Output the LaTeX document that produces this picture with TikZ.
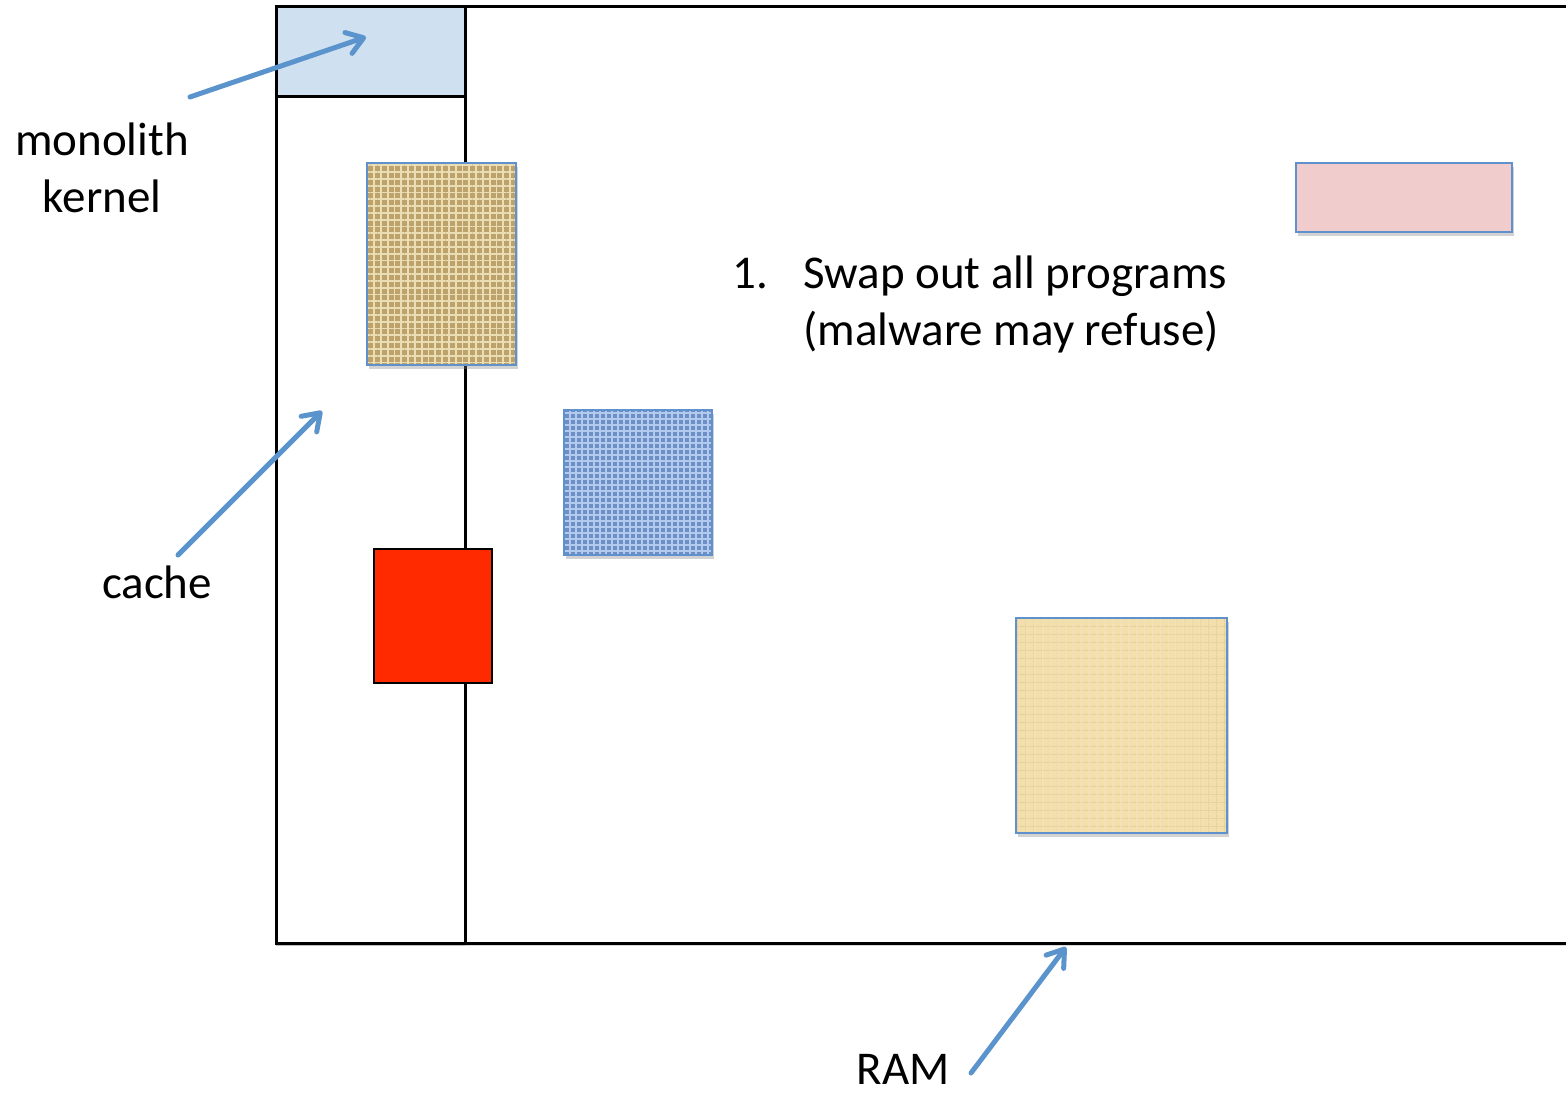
\documentclass[tikz,border=0pt]{standalone}
\usepackage{fontspec}
\setmainfont{Carlito}
\usetikzlibrary{arrows.meta,shadows,patterns,patterns.meta}
\definecolor{arrowblue}{RGB}{91,148,204}
\definecolor{kernelblue}{RGB}{207,224,241}
\definecolor{boxedge}{RGB}{95,145,205}
\definecolor{burlap}{RGB}{190,162,108}
\definecolor{burlaplight}{RGB}{236,222,180}
\definecolor{denim}{RGB}{110,142,198}
\definecolor{denimlight}{RGB}{178,202,238}
\definecolor{rosepaper}{RGB}{240,204,204}
\definecolor{papyrus}{RGB}{242,223,172}
\definecolor{papyrusline}{RGB}{230,208,155}
\definecolor{hotred}{RGB}{255,42,0}
\begin{document}
\begin{tikzpicture}[x=0.5pt,y=-0.5pt,
  lbl/.style={font=\fontsize{23.5}{28.5}\selectfont, inner sep=0pt},
  ptr/.style={draw=arrowblue, line width=2.5pt, line cap=round,
    -{Straight Barb[length=8pt,width=11pt,line cap=round,line join=round]}},
  frame/.style={draw=black, line width=1.5pt, fill=white,
    drop shadow={shadow xshift=0pt, shadow yshift=-1.5pt, opacity=0.3}},
  swatch/.style={draw=boxedge, line width=1.2pt,
    drop shadow={shadow xshift=0.8pt, shadow yshift=-1.8pt, opacity=0.35}},
]
\fill[white] (0,0) rectangle (1566,1097);
\useasboundingbox (0,0) rectangle (1566,1097);

% RAM frame and kernel column
\path[frame] (276,7) rectangle (1600,943);
\path[frame] (276,7) rectangle (465,943);
\draw[black, line width=1.5pt, fill=kernelblue] (276,7) rectangle (465,97);

% program swatches
\path[swatch, fill=burlap,
  postaction={pattern={Lines[angle=0,distance=3.4pt,line width=0.9pt]}, pattern color=burlaplight},
  postaction={pattern={Lines[angle=90,distance=3.4pt,line width=0.9pt]}, pattern color=burlaplight},
  postaction={draw=boxedge, line width=1.2pt}]
  (367,163) rectangle (516,365);
\path[swatch, fill=denim,
  postaction={pattern={Lines[angle=0,distance=3pt,line width=0.8pt]}, pattern color=denimlight},
  postaction={pattern={Lines[angle=90,distance=3pt,line width=0.6pt]}, pattern color=denimlight},
  postaction={draw=boxedge, line width=1.2pt}]
  (564,410) rectangle (712,555);
\path[swatch, fill=rosepaper] (1296,163) rectangle (1512,232);
\path[swatch, fill=papyrus,
  postaction={pattern={Lines[angle=0,distance=4pt,line width=0.4pt]}, pattern color=papyrusline},
  postaction={pattern={Lines[angle=90,distance=4pt,line width=0.4pt]}, pattern color=papyrusline},
  postaction={draw=boxedge, line width=1.2pt}]
  (1016,618) rectangle (1227,833);
\draw[black, line width=1.2pt, fill=hotred] (374,549) rectangle (492,683);

% labels
\node[lbl, align=center, anchor=base] (mk) at (102,212) {monolith\\kernel};
\node[lbl, anchor=base] (cache) at (157,598) {cache};
\node[lbl, anchor=base] (ram) at (903,1084) {RAM};
\node[lbl, align=left, anchor=base west] (step1) at (732,345)
  {\makebox[35.5pt][l]{1.}Swap out all programs\\\hspace*{35.5pt}(malware may refuse)};

% pointer ends
\coordinate (mkFrom) at (190,97);
\coordinate (mkTo) at (366,37);
\coordinate (cFrom) at (178,555);
\coordinate (cTo) at (322,411);
\coordinate (rFrom) at (971,1073);
\coordinate (rTo) at (1066,947);

\draw[ptr] (mkFrom) -- (mkTo);
\draw[ptr] (cFrom) -- (cTo);
\draw[ptr] (rFrom) -- (rTo);
\end{tikzpicture}
\end{document}
